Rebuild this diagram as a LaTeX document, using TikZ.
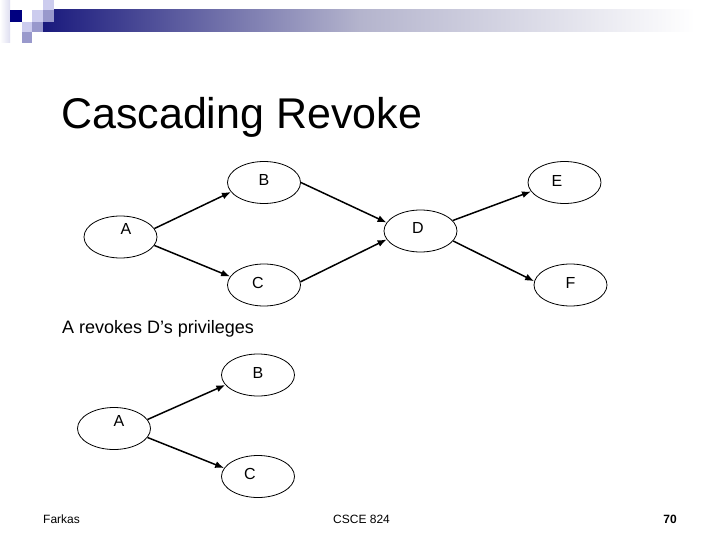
\documentclass[tikz,border=0pt]{standalone}
\usepackage{fontspec}
\setmainfont{Liberation Sans}
\usetikzlibrary{arrows.meta,shapes.geometric}
\definecolor{navy}{RGB}{0,0,128}
\definecolor{lav}{RGB}{204,204,238}
\definecolor{lavmid}{RGB}{153,153,204}
\definecolor{lavpale}{RGB}{222,222,240}
\definecolor{barleft}{RGB}{26,26,125}
\definecolor{barmid}{RGB}{180,180,205}
\begin{document}
\begin{tikzpicture}[x=1pt,y=-1pt,
  ell/.style={draw, ellipse, line width=0.8pt, minimum width=73pt, minimum height=42pt, inner sep=0pt},
  lbl/.style={font=\fontsize{16}{16}\selectfont, inner sep=0pt},
  arr/.style={-{Latex[length=9pt,width=7pt]}, line width=1.5pt},
  ftr/.style={font=\fontsize{12}{12}\selectfont, inner sep=0pt}]
\useasboundingbox (0,0) rectangle (720,540);
\fill[white] (0,0) rectangle (720,540);
% header decoration
\shade[left color=white, right color=lavpale] (0,0) rectangle (10,43);
\shade[left color=barleft, right color=barmid] (43,10) rectangle (360,32);
\shade[left color=barmid, right color=white] (360,10) rectangle (695,32);
\fill[lav] (43,0) rectangle (54,10);
\fill[lav] (32,10) rectangle (43,22);
\fill[lavmid] (43,10) rectangle (54,22);
\fill[navy] (10,10) rectangle (22,22);
\fill[lav] (22,22) rectangle (32,32);
\fill[lavmid] (32,22) rectangle (43,32);
\fill[lavmid] (22,32) rectangle (32,43);
% title
\node[anchor=base west, inner sep=0pt, font=\fontsize{43}{43}\selectfont] (title) at (61,129) {Cascading Revoke};
% first graph
\node[ell, label={[lbl,xshift=5.5pt,yshift=8.5pt]center:A}] (A1) at (120.5,237) {};
\node[ell, label={[lbl,yshift=2.5pt]center:B}] (B1) at (264,182.5) {};
\node[ell, label={[lbl,xshift=-6pt,yshift=2.5pt]center:C}] (C1) at (264,285) {};
\node[ell, label={[lbl,xshift=-2.5pt,yshift=3pt]center:D}] (D1) at (420.5,231) {};
\node[ell, label={[lbl,xshift=-7.5pt,yshift=2pt]center:E}] (E1) at (564.5,182.5) {};
\node[ell, label={[lbl,yshift=2.5pt]center:F}] (F1) at (570.5,285) {};
\draw[arr] (A1.14) -- (B1.196);
\draw[arr] (A1.-14) -- (C1.166);
\draw[arr] (B1.0) -- (D1.166);
\draw[arr] (C1.5) -- (D1.194);
\draw[arr] (D1.18) -- (E1.195);
\draw[arr] (D1.-17) -- (F1.174);
% caption
\node[anchor=base west, inner sep=0pt, font=\fontsize{18}{18}\selectfont] (cap) at (62,333) {A revokes D’s privileges};
% second graph
\node[ell, label={[lbl,xshift=5pt,yshift=7.5pt]center:A}] (A2) at (114,428.5) {};
\node[ell, label={[lbl,yshift=2pt]center:B}] (B2) at (258,375) {};
\node[ell, label={[lbl,xshift=-8pt,yshift=2.5pt]center:C}] (C2) at (258,476.5) {};
\draw[arr] (A2.15) -- (B2.197);
\draw[arr] (A2.-15) -- (C2.166);
% footer
\node[ftr, anchor=base west] (f1) at (43,523) {Farkas};
\node[ftr, anchor=base west] (f2) at (333,523) {CSCE 824};
\node[ftr, anchor=base east, font=\fontsize{12}{12}\selectfont\bfseries] (f3) at (677,523) {70};
\end{tikzpicture}
\end{document}
